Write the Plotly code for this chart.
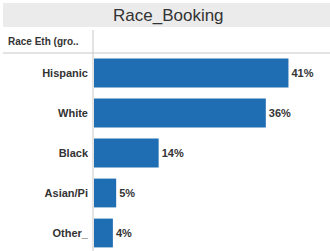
import plotly.graph_objects as go

categories = ["Hispanic", "White", "Black", "Asian/Pi", "Other_"]
values = [41.2, 36.4, 13.7, 4.7, 4.0]
labels = ["41%", "36%", "14%", "5%", "4%"]

W, H = 330, 251
x0 = 94
plot_top = 53

fig = go.Figure()
fig.add_trace(go.Bar(
    x=values,
    y=list(range(len(categories))),
    orientation="h",
    width=0.72,
    marker=dict(color="#1f6eb3", line=dict(width=0)),
    text=["<b>%s</b>" % t for t in labels],
    textposition="outside",
    textfont=dict(family="Liberation Sans, Arial", size=11, color="#333333"),
    cliponaxis=False,
    hoverinfo="skip",
))

fig.update_layout(
    width=W, height=H,
    margin=dict(l=x0, r=0, t=plot_top, b=0, autoexpand=False),
    paper_bgcolor="white",
    plot_bgcolor="white",
    showlegend=False,
    font=dict(family="Liberation Sans, Arial", color="#333333"),
    xaxis=dict(range=[0, 50], showgrid=False, zeroline=False, showticklabels=False,
               showline=False, fixedrange=True, automargin=False),
    yaxis=dict(range=[4.45, -0.5], tickmode="array",
               tickvals=list(range(len(categories))), ticktext=["<b>%s</b>" % c for c in categories],
               tickfont=dict(family="Liberation Sans, Arial", size=11, color="#333333"),
               ticks="", ticklen=0, ticklabelstandoff=5, showgrid=False, zeroline=False,
               showline=False, fixedrange=True, automargin=False),
    shapes=[
        dict(type="rect", xref="paper", yref="paper", x0=-(x0 - 3) / (W - x0), x1=1.0,
             y0=1 + (plot_top - 27) / (H - plot_top), y1=1 + (plot_top - 3) / (H - plot_top),
             fillcolor="#ebebeb", line=dict(width=0), layer="below"),
        dict(type="line", xref="paper", yref="paper", x0=-(x0 - 3) / (W - x0), x1=1.0,
             y0=1, y1=1, line=dict(color="#c8c8c8", width=1)),
        dict(type="line", xref="paper", yref="paper", x0=-1 / (W - x0), x1=-1 / (W - x0),
             y0=0, y1=1 + (plot_top - 30) / (H - plot_top), line=dict(color="#c8c8c8", width=1)),
    ],
    annotations=[
        dict(text="Race_Booking", xref="paper", yref="paper",
             x=(168 - x0) / (W - x0), y=1 + (plot_top - 15) / (H - plot_top),
             xanchor="center", yanchor="middle", showarrow=False,
             font=dict(family="Liberation Sans, Arial", size=17, color="#333333")),
        dict(text="<b>Race Eth (gro..</b>", xref="paper", yref="paper",
             x=-(x0 - 6) / (W - x0), y=1 + (plot_top - 42) / (H - plot_top),
             xanchor="left", yanchor="middle", showarrow=False,
             font=dict(family="Liberation Sans, Arial", size=10, color="#333333")),
    ],
)

fig.write_html("out.html", config={"displayModeBar": False},
               post_script="document.body.style.margin='0';document.body.style.overflow='hidden';")
